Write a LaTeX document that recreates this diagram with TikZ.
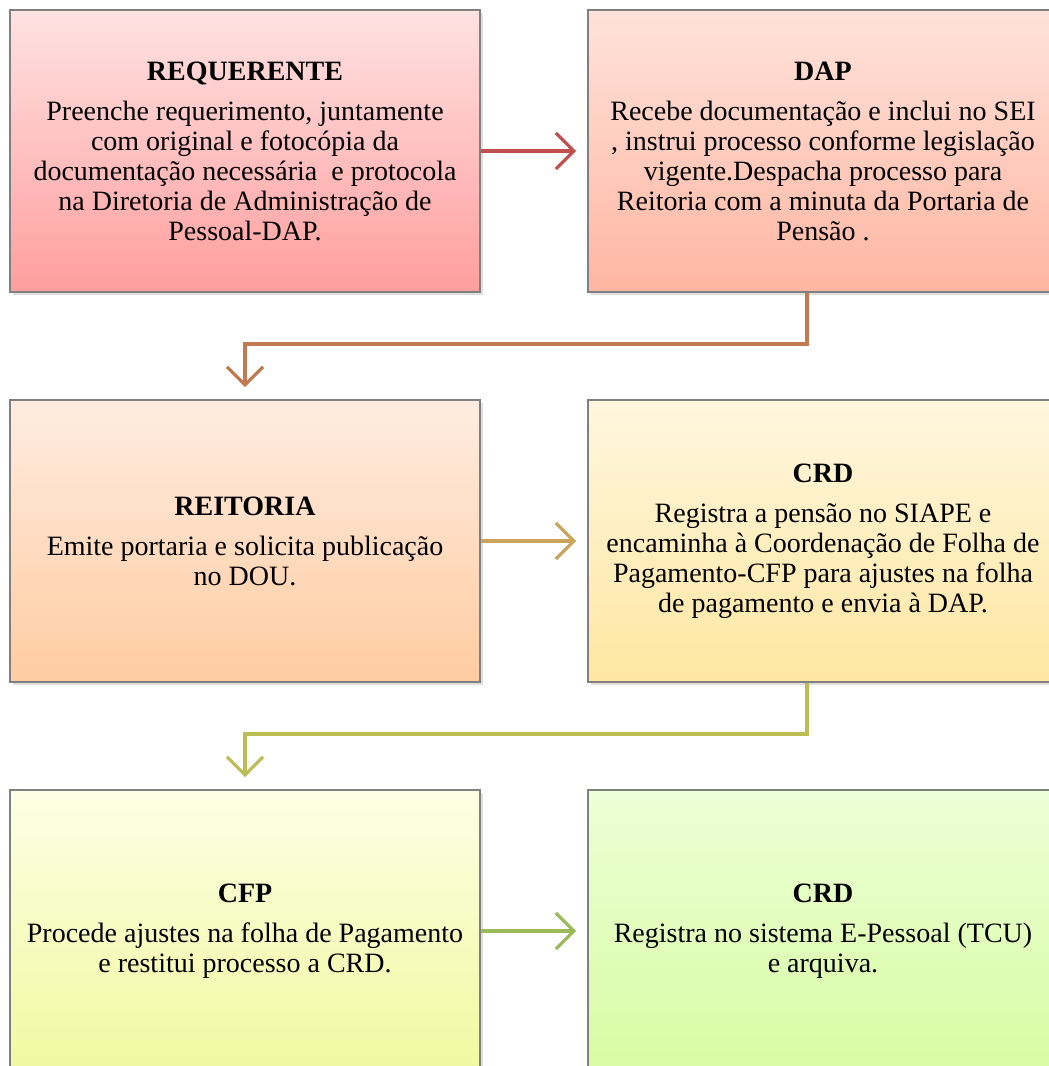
\documentclass[tikz,border=0pt]{standalone}
\usepackage{fontspec}
\setmainfont{Liberation Serif}
\usepackage{tikz}
\usetikzlibrary{arrows.meta, shadows}

\definecolor{seta1}{HTML}{C0504D}
\definecolor{seta2}{HTML}{C27A50}
\definecolor{seta3}{HTML}{C9A45A}
\definecolor{seta4}{HTML}{BCBE55}
\definecolor{seta5}{HTML}{9BBB59}

\begin{document}
\begin{tikzpicture}[x=0.5pt, y=-0.5pt,
    caixa/.style={draw=black!50, line width=0.9pt, minimum width=235pt, minimum height=141pt,
        align=center, font=\fontsize{14}{15}\selectfont,
        drop shadow={opacity=0.25, shadow xshift=1.5pt, shadow yshift=-1.5pt}},
    seta/.style={line width=1.6pt, -{Straight Barb[length=9pt, width=18pt, line width=1.6pt]}}]
    \useasboundingbox (0,0) rectangle (1049,1066);

    % Linha 1
    \node[caixa, top color={rgb,255:red,255;green,226;blue,226}, bottom color={rgb,255:red,255;green,158;blue,158}]
        (requerente) at (245,151) {\textbf{REQUERENTE}\\[5pt]
        Preenche requerimento, juntamente\\
        com original e fotocópia da\\
        documentação necessária\ \ e protocola\\
        na Diretoria de Administração de\\
        Pessoal-DAP.};
    \node[caixa, top color={rgb,255:red,255;green,226;blue,218}, bottom color={rgb,255:red,255;green,182;blue,162}]
        (dap) at (823,151) {\textbf{DAP}\\[5pt]
        Recebe documentação e inclui no SEI\\
        , instrui processo conforme legislação\\
        vigente.Despacha processo para\\
        Reitoria com a minuta da Portaria de\\
        Pensão .};

    % Linha 2
    \node[caixa, top color={rgb,255:red,255;green,236;blue,224}, bottom color={rgb,255:red,255;green,204;blue,162}]
        (reitoria) at (245,541) {\textbf{REITORIA}\\[5pt]
        Emite portaria e solicita publicação\\
        no DOU.};
    \node[caixa, top color={rgb,255:red,255;green,246;blue,222}, bottom color={rgb,255:red,255;green,231;blue,162}]
        (crd) at (823,541) {\textbf{CRD}\\[5pt]
        Registra a pensão no SIAPE e\\
        encaminha à Coordenação de Folha de\\
        Pagamento-CFP para ajustes na folha\\
        de pagamento e envia à DAP.};

    % Linha 3
    \node[caixa, top color={rgb,255:red,252;green,255;blue,228}, bottom color={rgb,255:red,242;green,248;blue,160}]
        (cfp) at (245,931) {\textbf{CFP}\\[5pt]
        Procede ajustes na folha de Pagamento\\
        e restitui processo a CRD.};
    \node[caixa, top color={rgb,255:red,236;green,255;blue,214}, bottom color={rgb,255:red,216;green,251;blue,163}]
        (crdfinal) at (823,931) {\textbf{CRD}\\[5pt]
        Registra no sistema E-Pessoal (TCU)\\
        e arquiva.};

    % Setas
    \draw[seta, seta1, shorten >=5.5pt] (requerente) -- (dap);
    \draw[seta, seta2, shorten >=6pt] ([xshift=-8pt]dap.south) -- ++(0,-25.5pt) -| (reitoria.north);
    \draw[seta, seta3, shorten >=5.5pt] (reitoria) -- (crd);
    \draw[seta, seta4, shorten >=6pt] ([xshift=-8pt]crd.south) -- ++(0,-25.5pt) -| (cfp.north);
    \draw[seta, seta5, shorten >=5.5pt] (cfp) -- (crdfinal);
\end{tikzpicture}
\end{document}
